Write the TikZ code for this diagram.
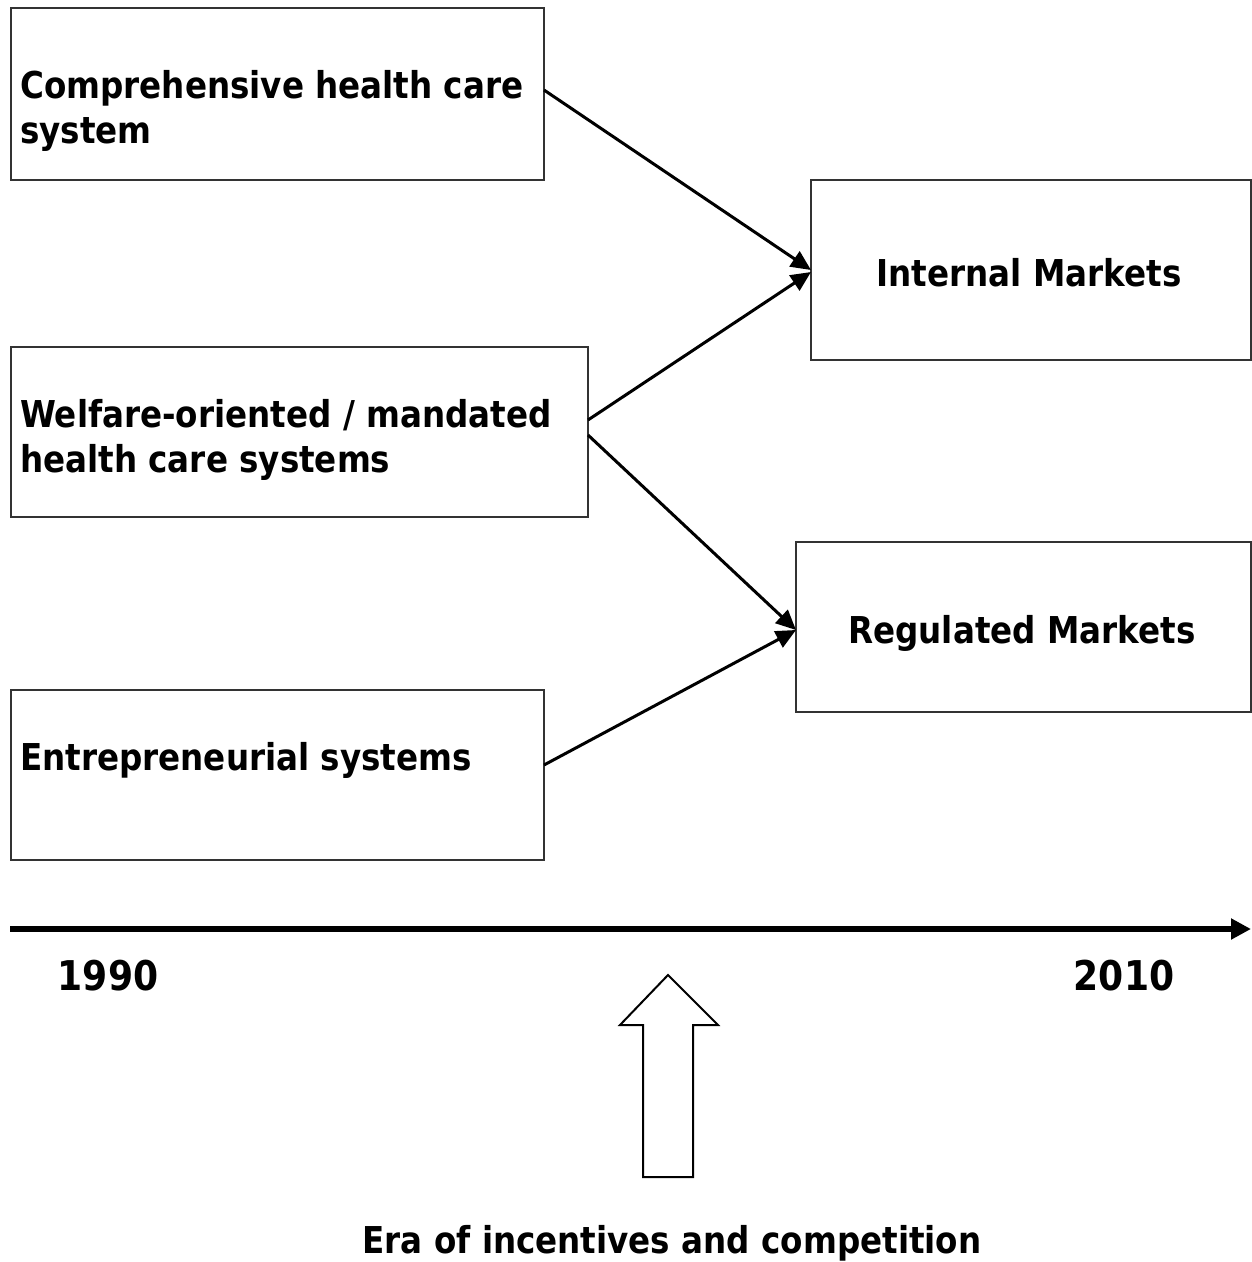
\documentclass[tikz,border=0pt]{standalone}
\usepackage{fontspec}
\setmainfont[FakeStretch=0.88]{DejaVu Sans}
\usetikzlibrary{calc,arrows.meta}
\begin{document}
\begin{tikzpicture}[x=1pt,y=-1pt,
  box/.style={draw=black!80,line width=1.3pt,inner sep=0pt,outer sep=0pt},
  lbl/.style={inner sep=0pt,align=left,font=\fontsize{37}{45}\selectfont\bfseries},
  yr/.style={inner sep=0pt,font=\fontsize{41}{45}\selectfont\bfseries},
  conn/.style={line width=3pt,-{Triangle[length=20pt,width=18pt]}}]
\useasboundingbox (0,0) rectangle (1252,1262);
% boxes
\node[box,minimum width=533pt,minimum height=172pt] (comp) at (277.5,94) {};
\node[box,minimum width=577pt,minimum height=170pt] (welf) at (299.5,432) {};
\node[box,minimum width=533pt,minimum height=170pt] (entr) at (277.5,775) {};
\node[box,minimum width=440pt,minimum height=180pt] (intm) at (1031,270) {};
\node[box,minimum width=455pt,minimum height=170pt] (regm) at (1023.5,627) {};
% texts
\node[lbl,anchor=west] (tcomp) at (20,111) {Comprehensive health care\\system};
\node[lbl,anchor=west] (twelf) at (20,440) {Welfare-oriented / mandated\\health care systems};
\node[lbl,anchor=west] (tentr) at (20,760) {Entrepreneurial systems};
\node[lbl] (tintm) at (1029,273) {Internal Markets};
\node[lbl] (tregm) at (1022,633) {Regulated Markets};
% connectors
\draw[conn] ($(comp.east)+(0,-4)$) -- ($(intm.west)+(0,0)$);
\draw[conn] ($(welf.east)+(0,-12)$) -- ($(intm.west)+(0,2)$);
\draw[conn] ($(welf.east)+(0,3)$) -- ($(regm.west)+(0,3)$);
\draw[conn] ($(entr.east)+(0,-10)$) -- ($(regm.west)+(0,3)$);
% timeline
\coordinate (tl0) at (10,929);
\coordinate (tl1) at (1251,929);
\draw[line width=6pt,-{Triangle[length=20pt,width=20pt]}] (tl0) -- (tl1);
\node[yr] (y1990) at (108,976) {1990};
\node[yr] (y2010) at (1124,976) {2010};
% hollow arrow
\draw[line width=2pt,line join=miter] (668,975) -- (718,1025) -- (693,1025) -- (693,1177) -- (643,1177) -- (643,1025) -- (620,1025) -- cycle;
\node[lbl] (era) at (672,1243) {Era of incentives and competition};
\end{tikzpicture}
\end{document}
